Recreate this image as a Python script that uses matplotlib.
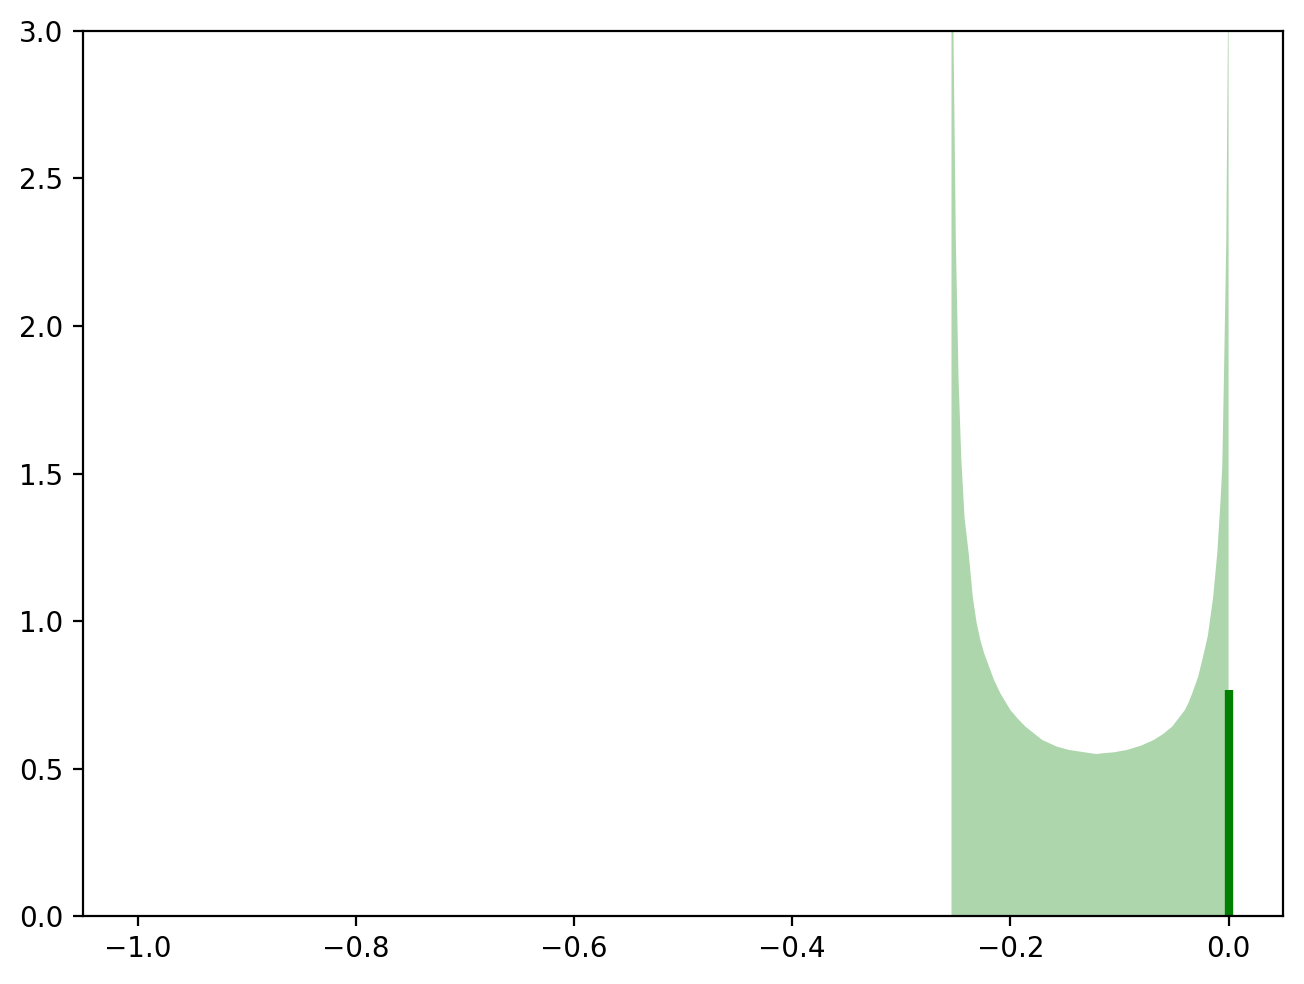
import numpy as np
import matplotlib
matplotlib.use('Agg')
import matplotlib.pyplot as plt

# density (x, value); both ends run past the top of the axes
dens_x = [-0.2540, -0.2522, -0.2500, -0.2475, -0.2450, -0.2420, -0.2382, -0.2345,
          -0.2310, -0.2275, -0.2240, -0.2200, -0.2150, -0.2092, -0.2000, -0.1930,
          -0.1862, -0.1709, -0.1580, -0.1465, -0.1250, -0.1210, -0.1174, -0.1050,
          -0.0930, -0.0800, -0.0685, -0.0600, -0.0517, -0.0401, -0.0365, -0.0333,
          -0.0280, -0.0241, -0.0190, -0.0141, -0.0104, -0.0075, -0.0058, -0.0043,
          -0.0021, -0.0006, 0.0]
dens_y = [12.0, 3.0, 2.29, 1.82, 1.55, 1.35, 1.229, 1.082,
          0.995, 0.935, 0.89, 0.85, 0.80, 0.755, 0.698, 0.668,
          0.642, 0.597, 0.575, 0.563, 0.551, 0.549, 0.551, 0.555,
          0.563, 0.578, 0.597, 0.617, 0.642, 0.698, 0.725, 0.755,
          0.81, 0.868, 0.95, 1.082, 1.229, 1.40, 1.523, 1.817,
          2.29, 3.0, 12.0]

# point mass at zero
atom_x = 0.0
atom_h = 0.766

fig = plt.figure(figsize=(6.52, 4.92), dpi=200)
ax = fig.add_axes([0.0637, 0.0691, 0.9203, 0.8994])

ax.fill_between(dens_x, dens_y, 0, color='green', alpha=0.32, linewidth=0)
ax.vlines(atom_x, 0, atom_h, colors='green', linewidth=3)

ax.set_xlim(-1.05, 0.05)
ax.set_ylim(0, 3)

plt.savefig('out.png', dpi=200)
